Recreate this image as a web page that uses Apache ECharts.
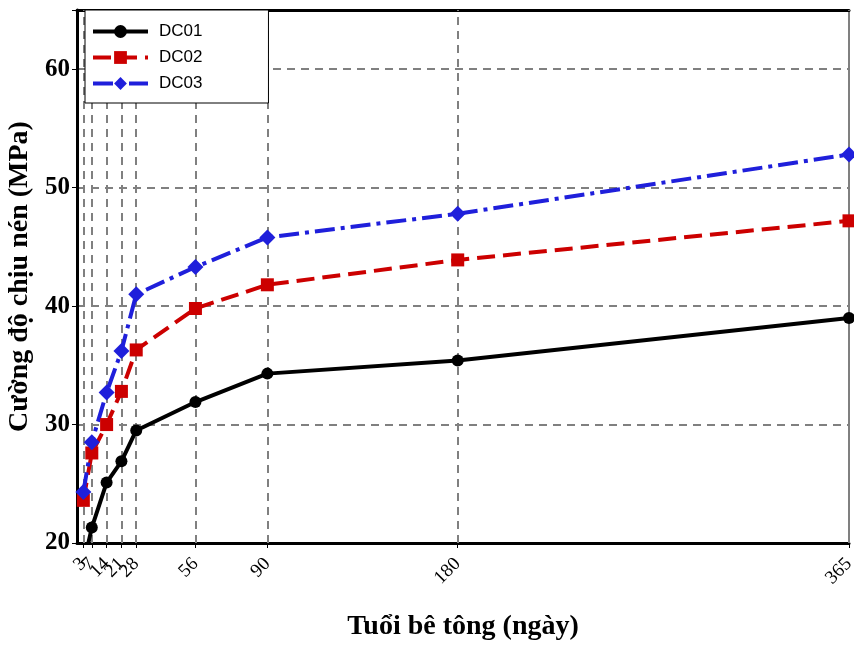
<!DOCTYPE html>
<html><head><meta charset="utf-8">
<script src="https://cdn.jsdelivr.net/npm/echarts@6/dist/echarts.min.js"></script>
<style>html,body{margin:0;padding:0;background:#fff}#c{width:854px;height:648px}</style>
</head><body><div id="c"></div>
<script>
const days = [3, 7, 14, 21, 28, 56, 90, 180, 365];
const dc01 = [18.1, 21.3, 25.1, 26.9, 29.5, 31.9, 34.3, 35.4, 39.0];
const dc02 = [23.6, 27.6, 30.0, 32.8, 36.3, 39.8, 41.8, 43.9, 47.2];
const dc03 = [24.3, 28.5, 32.7, 36.2, 41.0, 43.3, 45.8, 47.8, 52.8];
const yTicks = [20, 30, 40, 50, 60];

const pairs = arr => days.map((d, i) => [d, arr[i]]);
const serif = '"Liberation Serif", "Times New Roman", serif';
// tick labels split across three overlaid bottom axes so that crowded neighbours all show
const labelGroups = [0, 1, 2].map(k => days.filter((d, i) => i % 3 === k));

const tickLabel = vals => ({
  customValues: vals, rotate: 45, fontFamily: serif, fontSize: 19, color: '#000', margin: 18,
  hideOverlap: false, showMinLabel: true, showMaxLabel: true
});

const labelAxes = labelGroups.slice(1).map(vals => ({
  type: 'value', min: 0, max: 365, position: 'bottom', offset: 0,
  axisLine: { show: false }, axisTick: { show: false },
  axisLabel: tickLabel(vals), splitLine: { show: false }
}));

const chart = echarts.init(document.getElementById('c'));
chart.setOption({
  animation: false,
  grid: { left: 77, right: 5, top: 10, bottom: 105, show: true, borderColor: '#000', borderWidth: 1,
          outerBoundsMode: 'none', containLabel: false },
  legend: {
    orient: 'vertical', left: 85, top: 10,
    padding: [13, 66, 11, 6], itemGap: 9, itemWidth: 55, itemHeight: 16,
    backgroundColor: '#fff', borderColor: '#000', borderWidth: 1,
    textStyle: { fontFamily: '"Liberation Sans", Arial, sans-serif', fontSize: 17, color: '#000', padding: [0, 0, 0, 6] },
    lineStyle: { width: 'inherit', type: 'inherit' },
    data: ['DC01', 'DC02', 'DC03']
  },
  xAxis: [{
    type: 'value', min: 0, max: 365,
    name: 'Tuổi bê tông (ngày)', nameLocation: 'middle', nameGap: 70,
    nameTextStyle: { fontFamily: serif, fontWeight: 'bold', fontSize: 28, color: '#000' },
    axisLine: { show: true, lineStyle: { color: '#000', width: 3 } },
    axisTick: { show: true, customValues: days, length: 5, lineStyle: { color: '#000', width: 1 } },
    axisLabel: tickLabel(labelGroups[0]),
    splitLine: { show: false }
  }, {
    type: 'value', min: 0, max: 365, position: 'top',
    axisLine: { show: true, lineStyle: { color: '#000', width: 3 } },
    axisTick: { show: false }, axisLabel: { show: false }, splitLine: { show: false }
  }].concat(labelAxes),
  yAxis: {
    type: 'value', min: 20, max: 65, interval: 10,
    name: 'Cường độ chịu nén (MPa)', nameLocation: 'middle', nameGap: 29,
    nameTextStyle: { fontFamily: serif, fontWeight: 'bold', fontSize: 28, color: '#000' },
    axisLine: { show: true, lineStyle: { color: '#000', width: 3 } },
    axisTick: { show: true, length: 5, lineStyle: { color: '#000' } },
    axisLabel: { fontFamily: serif, fontWeight: 'bold', fontSize: 25, color: '#000', margin: 7,
      formatter: v => yTicks.includes(v) ? String(v) : '' },
    splitLine: { show: true, lineStyle: { color: '#808080', width: 2, type: [8, 6] } }
  },
  series: [
    {
      name: 'DC01', type: 'line', data: pairs(dc01), clip: true,
      symbol: 'circle', symbolSize: 12, color: '#000',
      lineStyle: { color: '#000', width: 4, type: 'solid' },
      markLine: {
        silent: true, symbol: 'none', label: { show: false }, z: 1,
        lineStyle: { color: '#808080', width: 2, type: [8, 6] },
        data: days.map(d => ({ xAxis: d }))
      }
    },
    {
      name: 'DC02', type: 'line', data: pairs(dc02), clip: true,
      symbol: 'rect', symbolSize: 13, color: '#cc0000',
      lineStyle: { color: '#cc0000', width: 4, type: [18, 8] }
    },
    {
      name: 'DC03', type: 'line', data: pairs(dc03), clip: true,
      symbol: 'diamond', symbolSize: 16, color: '#1f1fdb',
      lineStyle: { color: '#1f1fdb', width: 4, type: [20, 6, 4, 6] }
    }
  ]
});
</script></body></html>
